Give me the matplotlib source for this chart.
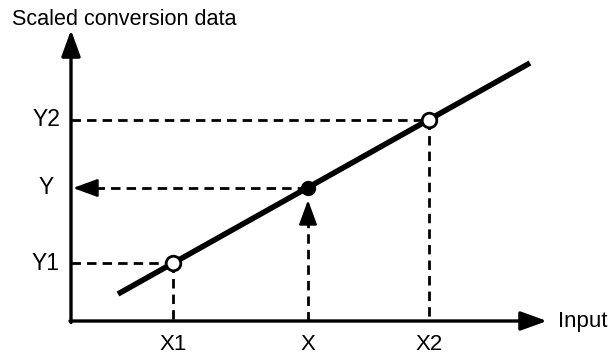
import matplotlib
matplotlib.use("Agg")
from matplotlib import pyplot as plt

plt.rcParams['font.family'] = ['Liberation Sans', 'DejaVu Sans']

# conversion line end points (arbitrary units, origin at axis corner)
line_x = [47, 459]
line_y = [27, 258]

# reference points
x1, y1 = 102, 58
x2, y2 = 358, 201
xv, yv = 237, 133

x_labels = ['X1', 'X', 'X2']
y_labels = ['Y1', 'Y', 'Y2']

x_axis_end = 476
y_axis_end = 291

fig = plt.figure(figsize=(6.08, 3.54), dpi=100)
ax = fig.add_axes([0, 0, 1, 1])
ax.set_xlim(-71, 537)
ax.set_ylim(-33, 321)
ax.axis('off')

# axes with arrow heads
axis_arrow = dict(arrowstyle='-|>,head_length=1.6,head_width=0.58', lw=2.4,
                  color='k', mutation_scale=10, shrinkA=0, shrinkB=0)
ax.annotate('', xy=(x_axis_end, 0), xytext=(-1, 0), arrowprops=axis_arrow)
ax.annotate('', xy=(0, y_axis_end), xytext=(0, -1.5), arrowprops=axis_arrow)

# dashed guide lines
dash = dict(color='k', lw=2.0, dashes=(3.4, 2.2))
ax.plot([0, x1], [y1, y1], **dash)
ax.plot([x1, x1], [y1, 0], **dash)
ax.plot([0, x2], [y2, y2], **dash)
ax.plot([x2, x2], [y2, 0], **dash)
ax.plot([24, xv], [yv, yv], **dash)
ax.plot([xv, xv], [0, yv - 28], **dash)

# small arrow heads on the X -> Y path
head = dict(arrowstyle='-|>,head_length=1.5,head_width=0.55', lw=1.8,
            color='k', mutation_scale=10, shrinkA=0, shrinkB=0)
ax.annotate('', xy=(2, yv), xytext=(24, yv), arrowprops=head)
ax.annotate('', xy=(xv, yv - 12), xytext=(xv, yv - 34), arrowprops=head)

# conversion line
ax.plot(line_x, line_y, color='k', lw=4.0, solid_capstyle='butt', zorder=3)
ax.plot([x1, x2], [y1, y2], 'o', ms=10.5, mfc='white', mec='k', mew=2.0, zorder=4)
ax.plot([xv], [yv], 'o', ms=10, mfc='k', mec='k', zorder=4)

# labels
for xv_, lab in zip([x1, xv, x2], x_labels):
    ax.text(xv_, -29.5, lab, ha='center', va='baseline', fontsize=16)
for yv_, lab in zip([y1, yv, y2], y_labels):
    ax.text(-25, yv_, lab, ha='center', va='center', fontsize=16.5)

ax.text(-59, 296, 'Scaled conversion data', ha='left', va='baseline', fontsize=15.6)
ax.text(487, 0, 'Input', ha='left', va='center', fontsize=16)

fig.savefig('out.png', dpi=100)
